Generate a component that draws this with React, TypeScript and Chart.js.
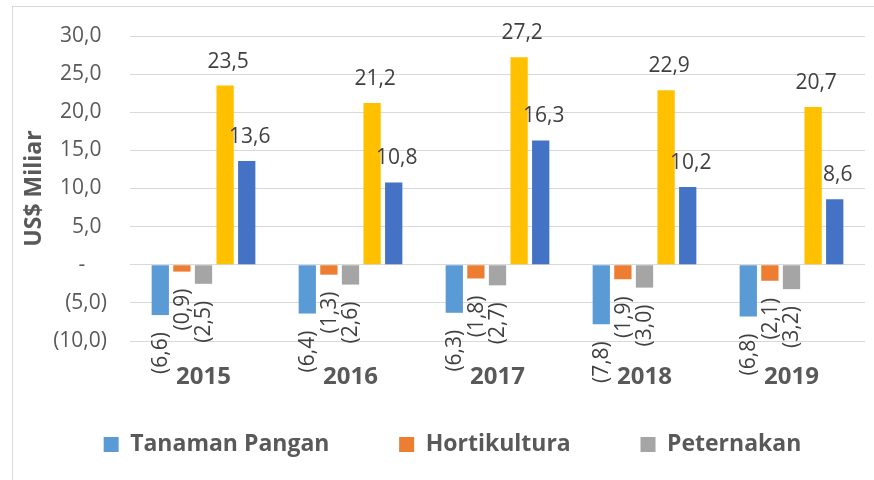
import React, { useEffect, useRef } from "react";
import { Chart, registerables } from "chart.js";

Chart.register(...registerables);

const years = ["2015", "2016", "2017", "2018", "2019"];
const tanamanPangan = [-6.6, -6.4, -6.3, -7.8, -6.8];
const hortikultura = [-0.9, -1.3, -1.8, -1.9, -2.1];
const peternakan = [-2.5, -2.6, -2.7, -3.0, -3.2];
const perkebunan = [23.5, 21.2, 27.2, 22.9, 20.7];
const total = [13.6, 10.8, 16.3, 10.2, 8.6];
const seriesNames = ["Tanaman Pangan", "Hortikultura", "Peternakan", "Perkebunan", "Total"];
const seriesColors = ["#5B9BD5", "#ED7D31", "#A5A5A5", "#FFC000", "#4472C4"];
const legendShown = 3;
const yMin = -10;
const yMax = 30;
const yStep = 5;

const FONT = "'Open Sans', sans-serif";
const LEFT_PAD = 40;
const TITLE_SIZE = 23;

function fmt(v: number): string {
  const s = Math.abs(v).toFixed(1).replace(".", ",");
  return v < 0 ? `(${s})` : s;
}

function tickFmt(v: number): string {
  if (v === 0) return "-    ";
  if (v < 0) return fmt(v);
  return fmt(v) + " ";
}

const valueLabels = {
  id: "valueLabels",
  afterDatasetsDraw(chart: any) {
    const ctx = chart.ctx;
    ctx.save();
    ctx.font = `21px ${FONT}`;
    ctx.fillStyle = "#404040";
    chart.data.datasets.forEach((ds: any, i: number) => {
      const meta = chart.getDatasetMeta(i);
      meta.data.forEach((bar: any, j: number) => {
        const v = ds.data[j] as number;
        const { x, y } = bar.getProps(["x", "y"], true);
        const t = fmt(v);
        if (v >= 0) {
          ctx.textAlign = "center";
          ctx.textBaseline = "alphabetic";
          ctx.fillText(t, x + 3, y - 18);
        } else {
          ctx.save();
          ctx.translate(x + 1, y + 17);
          ctx.rotate(-Math.PI / 2);
          ctx.textAlign = "right";
          ctx.textBaseline = "middle";
          ctx.fillText(t, 0, 0);
          ctx.restore();
        }
      });
    });
    ctx.restore();
  },
};

export default function App() {
  const ref = useRef<HTMLCanvasElement | null>(null);

  useEffect(() => {
    document.body.style.margin = "0";
    if (!ref.current) return;
    const allSeries = [tanamanPangan, hortikultura, peternakan, perkebunan, total];
    const chart = new Chart(ref.current, {
      type: "bar",
      data: {
        labels: years,
        datasets: allSeries.map((d, i) => ({
          label: seriesNames[i],
          data: d,
          backgroundColor: seriesColors[i],
          borderWidth: 0,
          categoryPercentage: 0.735,
          barPercentage: 0.8,
        })),
      },
      options: {
        responsive: false,
        animation: false,
        devicePixelRatio: 1,
        layout: { padding: { left: LEFT_PAD, right: 9, top: 36, bottom: 14 } },
        plugins: {
          tooltip: { enabled: false },
          legend: {
            position: "bottom",
            labels: {
              boxWidth: 15,
              boxHeight: 15,
              padding: 10,
              color: "#595959",
              font: { family: FONT, size: 23, weight: "bold" },
              generateLabels: (c: any) => {
                const items = Chart.defaults.plugins.legend.labels.generateLabels(c);
                return items
                  .filter((it: any) => it.datasetIndex < legendShown)
                  .map((it: any) => ({
                    ...it,
                    text: it.datasetIndex < legendShown - 1 ? it.text + "          " : it.text,
                  }));
              },
            },
          },
        },
        scales: {
          x: {
            grid: { display: false },
            border: { display: false },
            ticks: {
              color: "#595959",
              padding: 14,
              font: { family: FONT, size: 24, weight: "bold" },
            },
            afterFit: (s: any) => {
              s.height = 82;
            },
          },
          y: {
            min: yMin,
            max: yMax,
            grid: { color: "#d9d9d9", drawTicks: false, lineWidth: 1 },
            border: { display: false },
            ticks: {
              stepSize: yStep,
              color: "#595959",
              padding: 23,
              font: { family: FONT, size: 21 },
              callback: (v: any) => tickFmt(Number(v)),
            },
            title: {
              display: true,
              text: "US$ Miliar",
              color: "#595959",
              font: { family: FONT, size: TITLE_SIZE, weight: "bold" },
              padding: { top: 34 - LEFT_PAD - (TITLE_SIZE * 1.2) / 2, bottom: 0 },
            },
            afterFit: (s: any) => {
              s.width = 130 - LEFT_PAD;
            },
          },
        },
      },
      plugins: [valueLabels],
    });
    return () => chart.destroy();
  }, []);

  return (
    <div style={{ position: "relative", width: 874, height: 480, overflow: "hidden", background: "#fff" }}>
      <div
        style={{
          position: "absolute",
          left: 12,
          top: 6,
          width: 900,
          height: 520,
          border: "1px solid #d9d9d9",
          boxSizing: "border-box",
        }}
      />
      <canvas ref={ref} width={874} height={480} style={{ position: "absolute", left: 0, top: 0, display: "block" }} />
    </div>
  );
}
